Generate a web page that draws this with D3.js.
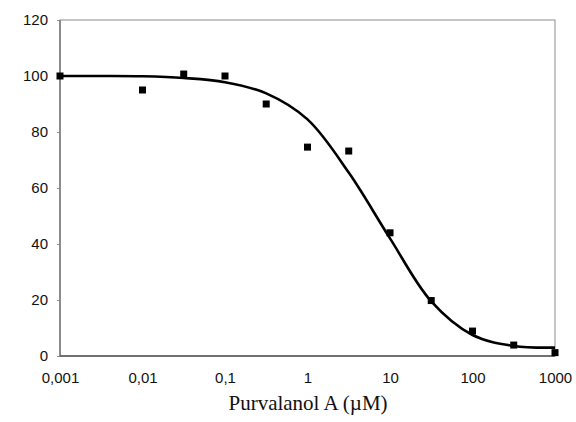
<html>
  <head>
    <script src="https://d3js.org/d3.v7.min.js"></script>
    <style>
      body { margin: 0; background: white; }
      .tick text { font-family: Arial, "Liberation Sans", Helvetica, sans-serif; font-size: 15px; fill: #111; }
      .domain { display: none; }
      .tick line { stroke: #888; }
    </style>
  </head>
  <body>
    <svg id="chart" width="576" height="422"></svg>
    <script type="text/javascript">
      // measured points
      var conc = [0.001, 0.01, 0.0316, 0.1, 0.316, 1, 3.16, 10, 31.6, 100, 316, 1000];
      var activity = [100, 95, 100.7, 100, 90, 74.6, 73.2, 44, 19.8, 8.9, 3.9, 1.2];

      // fitted curve at half-decade steps
      var curveConc = [0.001, 0.00316, 0.01, 0.0316, 0.1, 0.316, 1, 3.16, 10, 31.6, 100, 316, 1000];
      var curveActivity = [100, 100, 99.9, 99.3, 97.8, 93.8, 84.5, 65.5, 42, 19.5, 7.5, 3.6, 3.0];

      var xTicks = [0.001, 0.01, 0.1, 1, 10, 100, 1000];
      var xTickLabels = ['0,001', '0,01', '0,1', '1', '10', '100', '1000'];
      var yTicks = [0, 20, 40, 60, 80, 100, 120];

      var plotLeft = 60, plotRight = 555, plotTop = 20, plotBottom = 356;

      var svg = d3.select('#chart');

      var x = d3.scaleLog().domain([0.001, 1000]).range([plotLeft, plotRight]);
      var y = d3.scaleLinear().domain([0, 120]).range([plotBottom, plotTop]);

      // plot frame
      svg.append('rect')
        .attr('x', plotLeft).attr('y', plotTop)
        .attr('width', plotRight - plotLeft).attr('height', plotBottom - plotTop)
        .attr('fill', 'none')
        .attr('stroke', '#8c8c8c')
        .attr('stroke-width', 1);

      svg.append('line')
        .attr('x1', plotLeft).attr('x2', plotRight)
        .attr('y1', plotBottom).attr('y2', plotBottom)
        .attr('stroke', '#555').attr('stroke-width', 1.5);
      svg.append('line')
        .attr('x1', plotLeft).attr('x2', plotLeft)
        .attr('y1', plotTop).attr('y2', plotBottom)
        .attr('stroke', '#666').attr('stroke-width', 1.2);

      var yAxis = d3.axisLeft(y).tickValues(yTicks).tickSize(3).tickPadding(9);
      svg.append('g')
        .attr('transform', 'translate(' + plotLeft + ',0)')
        .call(yAxis);

      var xAxis = d3.axisBottom(x)
        .tickValues(xTicks)
        .tickSize(0)
        .tickPadding(16)
        .tickFormat(function(d, i) { return xTickLabels[i]; });
      svg.append('g')
        .attr('transform', 'translate(0,' + plotBottom + ')')
        .call(xAxis);

      // fitted line
      var line = d3.line()
        .x(function(d, i) { return x(curveConc[i]); })
        .y(function(d) { return y(d); })
        .curve(d3.curveCatmullRom.alpha(0.5));

      svg.append('path')
        .datum(curveActivity)
        .attr('d', line)
        .attr('fill', 'none')
        .attr('stroke', '#000')
        .attr('stroke-width', 2.6);

      // markers
      var size = 7;
      svg.append('g')
        .selectAll('rect')
        .data(activity)
        .join('rect')
        .attr('x', function(d, i) { return x(conc[i]) - size / 2; })
        .attr('y', function(d) { return y(d) - size / 2; })
        .attr('width', size)
        .attr('height', size)
        .attr('fill', '#000');

      svg.append('text')
        .attr('x', 308).attr('y', 410)
        .attr('text-anchor', 'middle')
        .attr('font-family', '"Liberation Serif", "Times New Roman", serif')
        .attr('font-size', 21)
        .attr('fill', '#111')
        .text('Purvalanol A (\u00b5M)');
    </script>
  </body>
</html>
